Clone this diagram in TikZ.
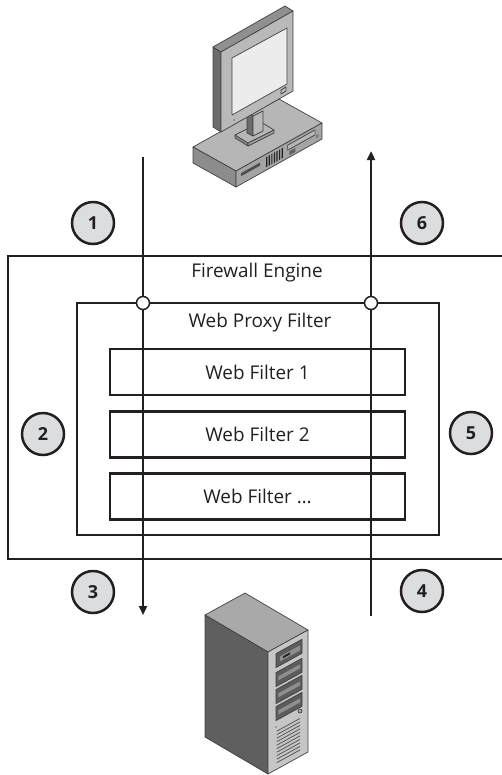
\documentclass[tikz,border=0pt]{standalone}
\usepackage{fontspec}
\setsansfont{Open Sans}
\usetikzlibrary{arrows.meta}
\definecolor{ink}{HTML}{231F20}
\definecolor{badgegray}{HTML}{DCDDDF}
\definecolor{caseTop}{HTML}{B6B6B6}
\definecolor{caseLeft}{HTML}{8C8C8C}
\definecolor{caseFront}{HTML}{A4A4A4}
\definecolor{monSide}{HTML}{6C6C6C}
\definecolor{monTop}{HTML}{909090}
\definecolor{bezel}{HTML}{B9B9B9}
\definecolor{screen}{HTML}{ECECEC}
\definecolor{srvTop}{HTML}{A9A9A9}
\definecolor{srvSide}{HTML}{5F5F5F}
\definecolor{srvFront}{HTML}{C6C6C6}
\definecolor{bay}{HTML}{5C5C5C}
\definecolor{bayInner}{HTML}{8F8F8F}
\tikzset{wall/.style={line width=2.7bp,color=ink},
flow/.style={-{Triangle[length=9bp,width=8bp]},line width=2.7bp,color=ink},
junction/.style={circle,draw=ink,fill=white,line width=1.5bp,minimum size=13bp,inner sep=0pt},
badge/.style={circle,draw=ink,fill=badgegray,line width=2.5bp,minimum size=42bp,inner sep=0pt,text=ink,font=\sffamily\bfseries\fontsize{18}{20}\selectfont},
caption/.style={text=ink,inner sep=0pt,font=\sffamily\fontsize{19}{22}\selectfont},
filterbox/.style={caption,draw=ink,line width=2.7bp,minimum width=295bp,minimum height=46bp},
part/.style={draw=ink!85,line width=0.7bp,line join=round}}

\begin{document}
\begin{tikzpicture}[x=1bp,y=-1bp]
\useasboundingbox (0,0) rectangle (502,775);
\filldraw[part,fill=caseTop](193,147)--(279,99)--(322,123)--(236,171)--cycle;
\filldraw[part,fill=caseLeft](193,147)--(236,171)--(236,187)--(193,163)--cycle;
\filldraw[part,fill=caseFront](236,171)--(322,123)--(322,139)--(236,187)--cycle;
\begin{scope}[shift={(236,171)},x={(86bp,48bp)},y={(0bp,-1bp)}]
\fill[ink!80](0.06,5)--(0.28,5)--(0.28,8)--(0.06,8)--cycle;
\foreach \u in {0.35,0.38,...,0.54}{\fill[ink](\u,3)--(\u+0.014,3)--(\u+0.014,13)--(\u,13)--cycle;}
\filldraw[part,fill=caseTop](0.6,3)--(0.92,3)--(0.92,8)--(0.6,8)--cycle;
\fill[ink!70](0.62,10)--(0.69,10)--(0.69,14)--(0.62,14)--cycle;
\fill[ink!60](0.93,9)--(0.96,9)--(0.96,12)--(0.93,12)--cycle;
\end{scope}
\filldraw[part,fill=caseLeft](235,135)--(248,143)--(248,146)--(235,138)--cycle;
\filldraw[part,fill=caseFront](248,143)--(274,130)--(274,133)--(248,146)--cycle;
\filldraw[part,fill=caseTop](235,135)--(261,122)--(274,130)--(248,143)--cycle;
\filldraw[part,fill=monSide](247,113)--(253,116)--(253,136)--(247,133)--cycle;
\filldraw[part,fill=bezel](253,116)--(263,111)--(263,131)--(253,136)--cycle;
\filldraw[part,fill=monSide](213,47)--(221,52)--(221,132)--(213,127)--cycle;
\filldraw[part,fill=monTop](213,47)--(285,6)--(293,11)--(221,52)--cycle;
\filldraw[part,fill=bezel](221,52)--(293,11)--(293,91)--(221,132)--cycle;
\filldraw[part,fill=screen](232,58)--(287,28)--(287,84)--(232,115)--cycle;
\filldraw[part,fill=bezel](281,90)--(286,87)--(286,91)--(281,94)--cycle;
\fill[ink!60](234,120) circle (1bp);
\filldraw[part,fill=srvTop](205,615)--(245,593)--(308,630)--(268,652)--cycle;
\filldraw[part,fill=srvSide](205,615)--(268,652)--(268,774)--(205,737)--cycle;
\filldraw[part,fill=srvFront](268,652)--(308,630)--(308,752)--(268,774)--cycle;
\begin{scope}[shift={(268,652)},x={(40bp,22bp)},y={(0bp,-1bp)}]
\filldraw[part,fill=bay](0.2,6)--(0.85,6)--(0.85,20)--(0.2,20)--cycle;
\fill[bayInner](0.3,11)--(0.8,11)--(0.8,16)--(0.3,16)--cycle;
\fill[ink](0.38,12.5)--(0.55,12.5)--(0.55,14.5)--(0.38,14.5)--cycle;
\foreach \v in {25,42,59}{
\filldraw[part,fill=bay](0.2,\v)--(0.85,\v)--(0.85,\v+14)--(0.2,\v+14)--cycle;
\fill[bayInner](0.26,\v+5)--(0.8,\v+5)--(0.8,\v+9)--(0.26,\v+9)--cycle;}
\foreach \v in {84,87.5,...,118}{\draw[ink!75,line width=0.8bp](0.22,\v)--(0.8,\v);}
\end{scope}
\filldraw[part,fill=srvTop](300,711) circle (2bp);
\fill[ink!60](276,727) circle (0.8bp);
\draw[wall](504,256)-|(8,559)--(504,559);
\draw[wall](77,303) rectangle (439,535);
\node[caption] (fw) at (257,273) {Firewall Engine};
\node[caption] (wpf) at (260,323) {Web Proxy Filter};
\node[filterbox] (wf1) at (257.5,372) {Web Filter 1};
\node[filterbox] (wf2) at (257.5,434.5) {Web Filter 2};
\node[filterbox] (wfn) at (257.5,496.5) {Web Filter \dots};
\coordinate (pcOut) at (143,157);
\coordinate (srvIn) at (143,615);
\coordinate (srvOut) at (371,616);
\coordinate (pcIn) at (371,151);
\draw[flow](pcOut)--(srvIn);
\draw[flow](srvOut)--(pcIn);
\node[junction] (jin) at (143,303) {};
\node[junction] (jout) at (371,303) {};
\foreach \n/\x/\y in {1/93/223,6/422/223,2/43/434,5/471/433,3/93/592,4/422/591}
\node[badge] (step\n) at (\x,\y) {\n};
\end{tikzpicture}
\end{document}
